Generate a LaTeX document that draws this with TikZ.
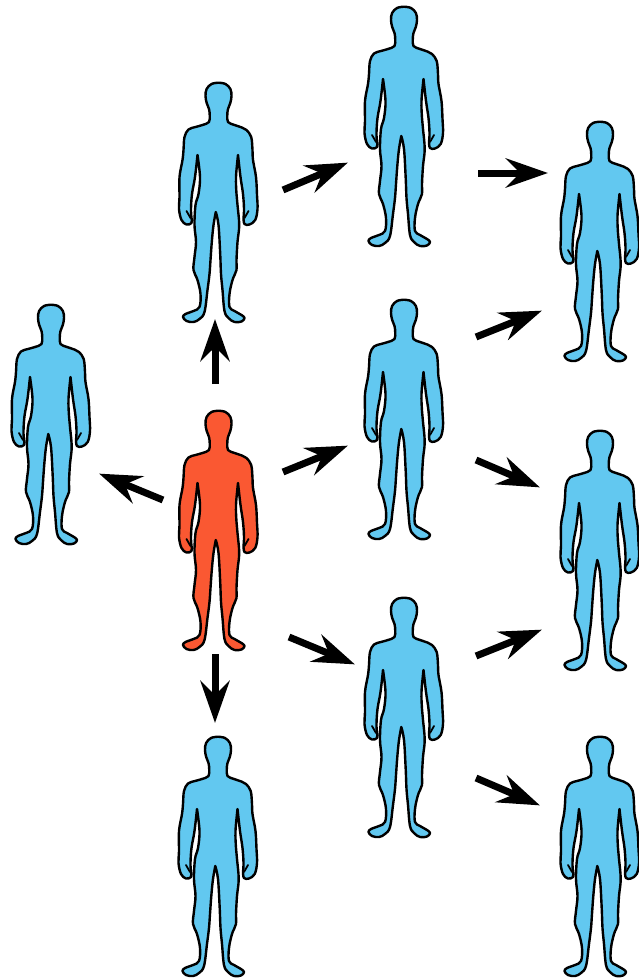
\documentclass[tikz,border=0pt]{standalone}
\usetikzlibrary{arrows.meta}
\definecolor{bodyblue}{RGB}{98,200,240}
\definecolor{bodyred}{RGB}{250,88,50}
\tikzset{
  x=1pt,y=-1pt,
  person/.style={draw=black,line width=2.4pt,line join=round,fill=bodyblue},
  redperson/.style={person,fill=bodyred},
  spread/.style={line width=7pt,draw=black,-{Stealth[length=42pt,width=29pt,inset=14pt]},shorten >=-1pt},
  anchorpt/.style={inner sep=0pt,minimum size=0pt}
}
\newcommand{\personfig}[4]{% name, x, top y, style
  \node[anchorpt] (#1) at (#2,#3) {};
  \begin{scope}[shift={(#1.center)}]
  \path[#4]
    plot[smooth,tension=0.6] coordinates {(1,0.7)(8,2)(12.9,7)(14,14)(12.8,21)(10.5,27)(9.8,33)(10.5,40)(17,43)(24.4,45.5)(29,48)(33.7,55)(35,68)(35.5,78)(38.5,95)(39.5,113)(40,127)(37.7,138)(32,142.5)(27,142)(26,136)}
    -- plot[smooth,tension=0.6] coordinates {(26,136)(26.5,127)(25.5,112)(23,95)(20.5,73)}
    -- plot[smooth,tension=0.6] coordinates {(20.5,73)(18.5,95)(19,112)(20,123)(21.7,143)(20,160)(19,178)(19,188)(15,198)(12,212)(12,225)(17,229)(24,233)(27,236)(24,239.5)(17,240)(11,236)(7,229)(5,208)(3.5,192)(2.7,172)(1,143)(-1.7,130)}
    -- plot[smooth,tension=0.6] coordinates {(-1.7,130)(-4,143)(-5.7,160)(-7,178)(-8,192)(-10,208)(-13,230)(-18,237)(-24,240)(-31,239)(-34.5,235)(-32,232)(-24,229)(-18,225)(-17,212)(-20,198)(-24,188)(-23,175)(-21.5,160)(-23,143)(-22,123)(-19,112)(-17.5,95)(-20,73)}
    -- plot[smooth,tension=0.6] coordinates {(-20,73)(-22.5,95)(-25.5,112)(-26.5,127)(-26,136)}
    -- plot[smooth,tension=0.6] coordinates {(-26,136)(-26,141)(-31,142.5)(-36,138)(-38.5,127)(-38,115)(-38,95)(-35,78)(-34,68)(-33,55)(-29,47.5)(-22,45)(-15,43)(-8.5,40)(-7.8,33)(-8.5,27)(-10.8,21)(-12,14)(-10.9,7)(-6,2)(1,0.7)}
    -- cycle;
  \draw[line width=1.8pt,line cap=round] (-31,129) -- (-27,136);
  \draw[line width=1.8pt,line cap=round] (31,129) -- (27,136);
  \end{scope}
}
\newcommand{\spreadarrow}[5]{% name, x1,y1,x2,y2
  \node[anchorpt] (#1s) at (#2,#3) {};
  \node[anchorpt] (#1e) at (#4,#5) {};
  \draw[spread] (#1s.center) -- (#1e.center);
}
\begin{document}
\begin{tikzpicture}
\useasboundingbox (0,0) rectangle (639,979);
\clip (0,0) rectangle (639,979);
\personfig{up}{217.5}{82}{person}
\personfig{left}{50}{304}{person}
\personfig{sick}{217.5}{410}{redperson}
\personfig{down}{217}{736}{person}
\personfig{ma}{403}{6}{person}
\personfig{mb}{403}{299}{person}
\personfig{mc}{403}{597}{person}
\personfig{ra}{599}{121}{person}
\personfig{rb}{599}{430}{person}
\personfig{rc}{599}{736}{person}
\spreadarrow{a}{215}{384}{215}{320}
\spreadarrow{b}{163}{500}{100}{474}
\spreadarrow{c}{215}{654}{215}{722}
\spreadarrow{d}{283}{472}{347}{446}
\spreadarrow{e}{283}{190}{347}{163}
\spreadarrow{f}{289}{637}{354}{664}
\spreadarrow{g}{478}{173}{547}{173}
\spreadarrow{h}{476}{337}{541}{311}
\spreadarrow{i}{476}{460}{539}{487}
\spreadarrow{j}{476}{656}{541}{630}
\spreadarrow{k}{476}{778}{539}{805}
\end{tikzpicture}
\end{document}
